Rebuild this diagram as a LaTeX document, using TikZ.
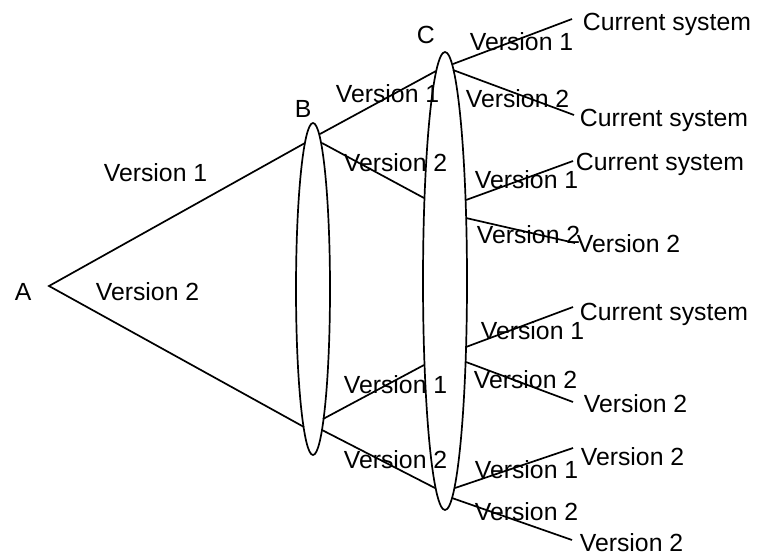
\documentclass[tikz,border=0pt]{standalone}
\usepackage{fontspec}
\setmainfont{Liberation Sans}
\usepackage{tikz}

\begin{document}
\begin{tikzpicture}[x=1pt, y=-1pt, line width=1.7pt, every node/.style={inner sep=0pt, anchor=base west, font=\fontsize{24.8}{29}\selectfont}]
  \useasboundingbox (0,0) rectangle (760,555);
  \coordinate (A) at (49,286);
  \coordinate (B) at (313,289);
  \coordinate (C) at (445,281);
  \coordinate (Ba) at (305,143);
  \coordinate (Bb) at (304,427);
  \coordinate (Bc) at (320,134);
  \coordinate (Bd) at (322,143);
  \coordinate (Be) at (323,419);
  \coordinate (Bf) at (322,430);
  \coordinate (Ca) at (436,71);
  \coordinate (Cb) at (424,198);
  \coordinate (Cc) at (424,365);
  \coordinate (Cd) at (435,488);
  \coordinate (C1) at (453,64);   \coordinate (E1) at (572,19);
  \coordinate (C2) at (453,70);   \coordinate (E2) at (574,115);
  \coordinate (C3) at (466,200);  \coordinate (E3) at (573,161);
  \coordinate (C4) at (466,218);  \coordinate (E4) at (575,243);
  \coordinate (C5) at (466,347);  \coordinate (E5) at (573,307);
  \coordinate (C6) at (466,362);  \coordinate (E6) at (573,402);
  \coordinate (C7) at (455,488);  \coordinate (E7) at (573,448);
  \coordinate (C8) at (452,498);  \coordinate (E8) at (572,540);

  \draw (B) ellipse [x radius=17, y radius=166];
  \draw (C) ellipse [x radius=22, y radius=229];
  \draw (Ba) -- (A) -- (Bb);
  \draw (Bc) -- (Ca);
  \draw (Bd) -- (Cb);
  \draw (Be) -- (Cc);
  \draw (Bf) -- (Cd);
  \draw (C1) -- (E1);
  \draw (C2) -- (E2);
  \draw (C3) -- (E3);
  \draw (C4) -- (E4);
  \draw (C5) -- (E5);
  \draw (C6) -- (E6);
  \draw (C7) -- (E7);
  \draw (C8) -- (E8);

  \node (nA) at (14,300) {A};
  \node (nB) at (294,117) {B};
  \node (nC) at (416,43) {C};
  \node (a1) at (103,181) {Version 1};
  \node (a2) at (95,300) {Version 2};
  \node (b1) at (335,102) {Version 1};
  \node (b2) at (343,171) {Version 2};
  \node (b3) at (343,393) {Version 1};
  \node (b4) at (343,468) {Version 2};
  \node (c1) at (469,50) {Version 1};
  \node (c2) at (465,107) {Version 2};
  \node (c3) at (474,188) {Version 1};
  \node (c4) at (476,243) {Version 2};
  \node (c5) at (480,339) {Version 1};
  \node (c6) at (473,388) {Version 2};
  \node (c7) at (474,478) {Version 1};
  \node (c8) at (474,520) {Version 2};
  \node (e1) at (582,30) {Current system};
  \node (e2) at (579,126) {Current system};
  \node (e3) at (575,170) {Current system};
  \node (e4) at (576,252) {Version 2};
  \node (e5) at (579,320) {Current system};
  \node (e6) at (583,412) {Version 2};
  \node (e7) at (580,465) {Version 2};
  \node (e8) at (579,551) {Version 2};
\end{tikzpicture}
\end{document}
